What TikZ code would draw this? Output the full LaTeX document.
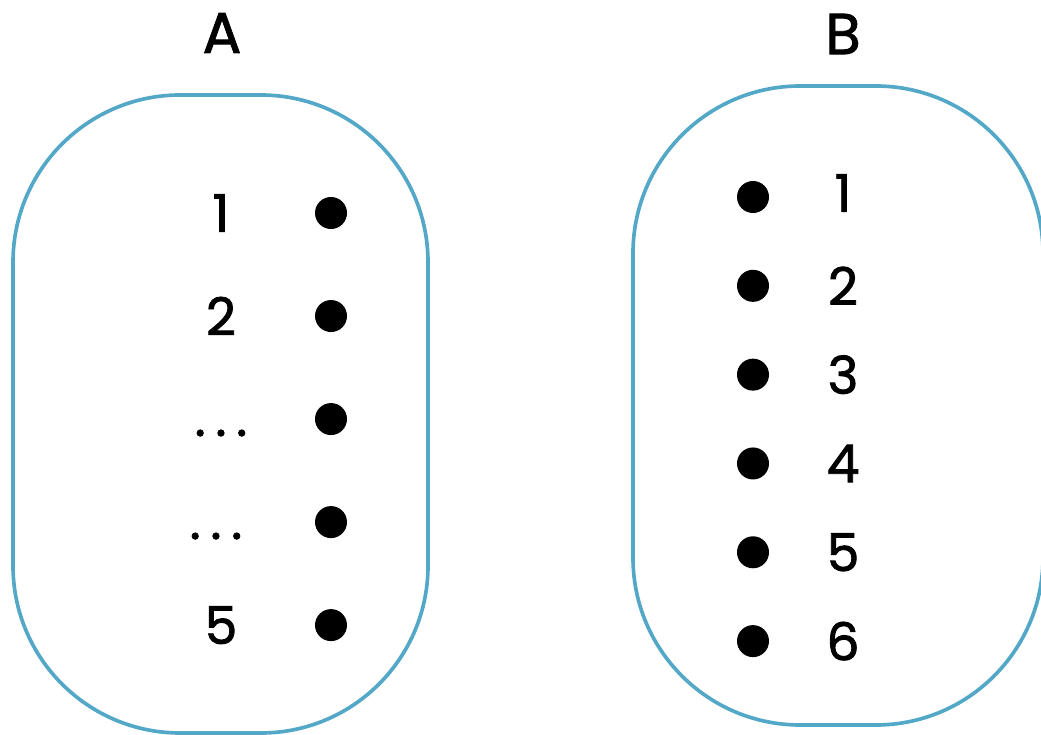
\documentclass[tikz,border=0pt]{standalone}
\usepackage{fontspec}
\setmainfont{Poppins}[BoldFont=Poppins, BoldFeatures={FakeBold=1.6}]
\definecolor{setblue}{RGB}{84,168,199}
\newcommand{\spaceddots}{.\kern7pt.\kern7pt.}
\begin{document}
\begin{tikzpicture}
[x=0.025cm, y=-0.025cm, font=\fontsize{37}{40}\selectfont\bfseries]
\tikzstyle{elem}=[circle, fill=black, inner sep=0mm, minimum size=0.8cm]
\tikzstyle{num}=[inner sep=0mm]
\tikzstyle{setline}=[draw=setblue, line width=2.6pt, rounded corners=4.18cm]
\useasboundingbox (0,0) rectangle (1041,735);

% set A
\draw[setline] (13,95) rectangle (428,733);
\node[num] (A) at (222,33) {\fontsize{41}{44}\selectfont A};
\begin{scope}[node distance=2.575cm]
\node[elem] (a1) at (331,213) {};
\node[elem] (a2) [below of=a1] {};
\node[elem] (a3) [below of=a2] {};
\node[elem] (a4) [below of=a3] {};
\node[elem] (a5) [below of=a4] {};
\end{scope}
\begin{scope}[node distance=2.75cm]
\node[num] (a1l) [left of=a1] {1};
\node[num] (a2l) [left of=a2] {2};
\node[num] (a3l) [left of=a3, yshift=-0.35cm] {\spaceddots};
\node[num] (a4l) [left of=a4, xshift=-0.125cm, yshift=-0.35cm] {\spaceddots};
\node[num] (a5l) [left of=a5] {5};
\end{scope}

% set B
\draw[setline] (633,86) rectangle (1043,725);
\node[num] (B) at (843,34) {\fontsize{41}{44}\selectfont B};
\begin{scope}[node distance=2.22cm]
\node[elem] (b1) at (753,197) {};
\node[elem] (b2) [below of=b1] {};
\node[elem] (b3) [below of=b2] {};
\node[elem] (b4) [below of=b3] {};
\node[elem] (b5) [below of=b4] {};
\node[elem] (b6) [below of=b5] {};
\end{scope}
\begin{scope}[node distance=2.25cm]
\node[num] (b1l) [right of=b1, yshift=0.1cm] {1};
\node[num] (b2l) [right of=b2] {2};
\node[num] (b3l) [right of=b3] {3};
\node[num] (b4l) [right of=b4] {4};
\node[num] (b5l) [right of=b5] {5};
\node[num] (b6l) [right of=b6] {6};
\end{scope}
\end{tikzpicture}
\end{document}
